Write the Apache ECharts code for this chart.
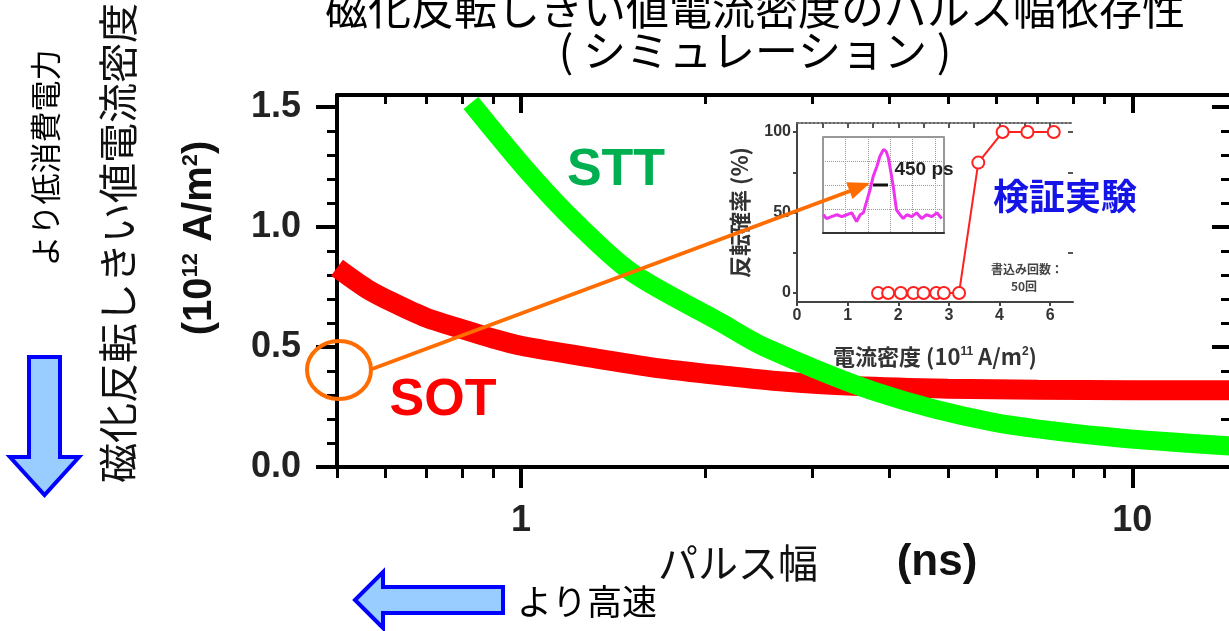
<!DOCTYPE html>
<html>
<head>
<meta charset="utf-8">
<title>磁化反転しきい値電流密度のパルス幅依存性</title>
<script src="https://cdn.jsdelivr.net/npm/echarts@6/dist/echarts.min.js"></script>
<style>
  html, body { margin: 0; padding: 0; background: #fff; }
  #chart { width: 1229px; height: 631px; }
</style>
</head>
<body>
<div id="chart"></div>
<script>
// メイン図：パルス幅 (ns) としきい値電流密度 (10^12 A/m^2)
var sotPulse = [0.5, 0.56, 0.62, 0.7, 0.8, 0.9, 1.0, 1.33, 1.7, 2.2, 2.65, 3.5, 5, 7, 10, 14.5];
var sotJc    = [0.83, 0.742, 0.683, 0.622, 0.575, 0.535, 0.505, 0.452, 0.41, 0.378, 0.357, 0.338, 0.326, 0.322, 0.32, 0.32];
var sttPulse = [0.828, 1.031, 1.231, 1.514, 2.128, 2.5, 3.81, 5.9, 9.2, 14.5];
var sttJc    = [1.517, 1.225, 1.017, 0.8125, 0.60, 0.50, 0.3125, 0.1875, 0.125, 0.0875];

// 目盛り
var xMajor = [1, 10];
var xMajorLabels = ['1', '10'];
var xMinor = [0.5, 0.6, 0.7, 0.8, 0.9, 2, 3, 4, 5, 6, 7, 8, 9];
var yMajor = [0, 0.5, 1.0, 1.5];
var yMajorLabels = ['0.0', '0.5', '1.0', '1.5'];
var yMinor = [0.1, 0.2, 0.3, 0.4, 0.6, 0.7, 0.8, 0.9, 1.1, 1.2, 1.3, 1.4];

// 挿入図：検証実験（電流密度 10^11 A/m^2 と反転確率 %）
var insetJ = [1.6, 1.8, 2.05, 2.3, 2.5, 2.75, 2.9, 3.2, 3.58, 4.06, 4.55, 5.07];
var insetP = [0, 0, 0, 0, 0, 0, 0, 0, 81, 100, 100, 100];
var insetXTicks = [0, 1, 2, 3, 4, 5];
var insetXLabels = ['0', '1', '2', '3', '4', '6'];
var insetYTicks = [0, 50, 100];
var insetYMinor = [0, 25, 50, 75, 100];

// 挿入図の中の電圧パルス波形
var pulseT = [0.01, 0.08, 0.19, 0.31, 0.42, 0.53, 0.64, 0.75, 0.83, 0.90, 0.98, 1.05, 1.12, 1.20, 1.27, 1.35,
              1.41, 1.46, 1.53, 1.57, 1.61, 1.64, 1.72, 1.79, 1.87, 1.98, 2.09, 2.20, 2.31, 2.43, 2.54, 2.65];
var pulseV = [0.19, 0.15, 0.17, 0.19, 0.17, 0.19, 0.21, 0.12, 0.19, 0.21, 0.34, 0.45, 0.59, 0.69, 0.80, 0.87,
              0.85, 0.78, 0.59, 0.48, 0.34, 0.24, 0.19, 0.15, 0.19, 0.17, 0.21, 0.15, 0.19, 0.17, 0.21, 0.15];

var JP = '"Noto Sans CJK JP", sans-serif';
var EN = '"Liberation Sans", Arial, sans-serif';

function zip(a, b) {
  var out = [];
  for (var i = 0; i < a.length; i++) out.push([a[i], b[i]]);
  return out;
}
function pick(values, labels) {
  return function (v) {
    for (var i = 0; i < values.length; i++) {
      if (Math.abs(v - values[i]) < 1e-6 * Math.max(1, Math.abs(values[i]))) return labels[i];
    }
    return '';
  };
}

var myChart = echarts.init(document.getElementById('chart'));

var black = '#000';
var noLabel = {show: false};
var noSplit = {show: false};

var option = {
  animation: false,
  backgroundColor: '#fff',
  grid: [
    {left: 337, top: 95, width: 894, height: 372, outerBoundsMode: 'none'},
    {left: 797, top: 123, width: 276, height: 179, outerBoundsMode: 'none'},
    {left: 823, top: 137, width: 121, height: 96, show: true, borderColor: '#777', borderWidth: 1.5,
     backgroundColor: 'transparent', outerBoundsMode: 'none'}
  ],
  xAxis: [
    // 下：主目盛り＋ラベル
    {type: 'log', gridIndex: 0, position: 'bottom', min: 0.5, max: 14.5,
     axisLine: {onZero: false, lineStyle: {color: black, width: 4}},
     axisTick: {customValues: xMajor, length: 21, lineStyle: {color: black, width: 4}},
     axisLabel: {customValues: xMajor, margin: 36, fontSize: 36, fontWeight: 'bold', fontFamily: EN, color: '#222',
                 formatter: pick(xMajor, xMajorLabels)},
     splitLine: noSplit},
    // 下：補助目盛り
    {type: 'log', gridIndex: 0, position: 'bottom', min: 0.5, max: 14.5,
     axisLine: {show: false, onZero: false},
     axisTick: {customValues: xMinor, length: 11, lineStyle: {color: black, width: 3}},
     axisLabel: noLabel, splitLine: noSplit},
    // 上：枠
    {type: 'log', gridIndex: 0, position: 'top', min: 0.5, max: 14.5,
     axisLine: {onZero: false, lineStyle: {color: black, width: 4}},
     axisTick: {inside: true, customValues: xMajor, length: 18, lineStyle: {color: black, width: 4}},
     axisLabel: noLabel, splitLine: noSplit},
    {type: 'log', gridIndex: 0, position: 'top', min: 0.5, max: 14.5,
     axisLine: {show: false, onZero: false},
     axisTick: {inside: true, customValues: xMinor, length: 9, lineStyle: {color: black, width: 3}},
     axisLabel: noLabel, splitLine: noSplit},
    // 挿入図
    {type: 'value', gridIndex: 1, position: 'bottom', min: 0, max: 5.45,
     axisLine: {onZero: false, lineStyle: {color: '#444', width: 2}},
     axisTick: {customValues: insetXTicks, length: 4, lineStyle: {color: '#444', width: 2}},
     axisLabel: {customValues: insetXTicks, margin: 6, fontSize: 16, fontWeight: 'bold', fontFamily: EN, color: '#333',
                 formatter: pick(insetXTicks, insetXLabels)},
     name: '電流密度 (10{sup|11} A/m{sup|2})', nameLocation: 'middle', nameGap: 44,
     nameTextStyle: {fontSize: 22, fontWeight: 'bold', fontFamily: JP, color: '#333',
                     rich: {sup: {fontSize: 12, fontWeight: 'bold', fontFamily: EN, color: '#333', verticalAlign: 'top'}}},
     splitLine: noSplit},
    {type: 'value', gridIndex: 1, position: 'top', min: 0, max: 5.45,
     axisLine: {onZero: false, lineStyle: {color: '#666', width: 2, type: 'dotted'}},
     axisTick: {inside: true, customValues: [0.5, 1, 1.5, 2, 2.5, 3, 3.5, 4, 4.5, 5], length: 5, lineStyle: {color: '#555', width: 2}},
     axisLabel: noLabel, splitLine: noSplit},
    // 波形の小窓
    {type: 'value', gridIndex: 2, min: 0, max: 2.7, interval: 0.5,
     axisLine: {onZero: false, lineStyle: {color: '#333', width: 2}},
     axisTick: {show: false}, axisLabel: noLabel,
     splitLine: {show: true, lineStyle: {color: '#999', width: 1, type: 'dotted'}}}
  ],
  yAxis: [
    // 左：主目盛り＋ラベル
    {type: 'value', gridIndex: 0, position: 'left', min: 0, max: 1.55,
     axisLine: {show: true, onZero: false, lineStyle: {color: black, width: 4}},
     axisTick: {show: true, customValues: yMajor, length: 21, lineStyle: {color: black, width: 4}},
     axisLabel: {customValues: yMajor, margin: 36, fontSize: 36, fontWeight: 'bold', fontFamily: EN, color: '#222',
                 formatter: pick(yMajor, yMajorLabels)},
     splitLine: noSplit},
    {type: 'value', gridIndex: 0, position: 'left', min: 0, max: 1.55,
     axisLine: {show: false, onZero: false},
     axisTick: {show: true, customValues: yMinor, length: 10, lineStyle: {color: black, width: 3}},
     axisLabel: noLabel, splitLine: noSplit},
    // 右：枠
    {type: 'value', gridIndex: 0, position: 'right', min: 0, max: 1.55,
     axisLine: {show: true, onZero: false, lineStyle: {color: black, width: 4}},
     axisTick: {show: true, inside: true, customValues: yMajor, length: 19, lineStyle: {color: black, width: 4}},
     axisLabel: noLabel, splitLine: noSplit},
    {type: 'value', gridIndex: 0, position: 'right', min: 0, max: 1.55,
     axisLine: {show: false, onZero: false},
     axisTick: {show: true, inside: true, customValues: yMinor, length: 10, lineStyle: {color: black, width: 3}},
     axisLabel: noLabel, splitLine: noSplit},
    // 挿入図
    {type: 'value', gridIndex: 1, position: 'left', min: -5.6, max: 105.6,
     axisLine: {show: true, onZero: false, lineStyle: {color: '#444', width: 2}},
     axisTick: {show: true, customValues: insetYMinor, length: 4, lineStyle: {color: '#444', width: 2}},
     axisLabel: {customValues: insetYTicks, margin: 6, fontSize: 16, fontWeight: 'bold', fontFamily: EN, color: '#333'},
     name: '反転確率 (%)', nameLocation: 'middle', nameRotate: 90, nameGap: 46,
     nameTextStyle: {fontSize: 22, fontWeight: 'bold', fontFamily: JP, color: '#333'},
     splitLine: noSplit},
    {type: 'value', gridIndex: 1, position: 'right', min: -5.6, max: 105.6,
     axisLine: {show: false, onZero: false},
     axisTick: {show: true, inside: true, customValues: [25, 75, 100], length: 5, lineStyle: {color: '#555', width: 2}},
     axisLabel: noLabel, splitLine: noSplit},
    // 波形の小窓
    {type: 'value', gridIndex: 2, min: 0, max: 1, interval: 0.25,
     axisLine: {show: false}, axisTick: {show: false}, axisLabel: noLabel,
     splitLine: {show: true, lineStyle: {color: '#999', width: 1, type: 'dotted'}}}
  ],
  series: [
    {name: 'SOT', type: 'line', xAxisIndex: 0, yAxisIndex: 0, data: zip(sotPulse, sotJc),
     smooth: 0.3, showSymbol: false, z: 2,
     lineStyle: {color: '#ff0000', width: 20, cap: 'butt'}},
    {name: 'STT', type: 'line', xAxisIndex: 0, yAxisIndex: 0, data: zip(sttPulse, sttJc),
     smooth: 0.3, showSymbol: false, z: 3,
     lineStyle: {color: '#00ff00', width: 19, cap: 'butt'}},
    {name: '反転確率', type: 'line', xAxisIndex: 4, yAxisIndex: 4, data: zip(insetJ, insetP),
     symbol: 'emptyCircle', symbolSize: 12, z: 5,
     lineStyle: {color: '#ff2020', width: 2},
     itemStyle: {color: '#ff2020', borderWidth: 2.5}},
    {name: 'パルス', type: 'line', xAxisIndex: 6, yAxisIndex: 6, data: zip(pulseT, pulseV),
     showSymbol: false, z: 5,
     lineStyle: {color: '#ee33ee', width: 3}}
  ],
  graphic: [
    // タイトル
    {type: 'text', x: 755, y: 9, z: 10, style: {text: '磁化反転しきい値電流密度のパルス幅依存性',
      fontSize: 43, fontFamily: JP, fill: '#000', align: 'center', verticalAlign: 'middle'}},
    {type: 'text', x: 755, y: 51, z: 10, style: {text: '( シミュレーション )',
      fontSize: 43, fontFamily: JP, fill: '#000', align: 'center', verticalAlign: 'middle'}},
    // 縦軸名
    {type: 'text', x: 118, y: 243, rotation: Math.PI / 2, z: 10, style: {text: '磁化反転しきい値電流密度',
      fontSize: 40, fontFamily: JP, fill: '#111', align: 'center', verticalAlign: 'middle'}},
    {type: 'text', x: 200, y: 238, rotation: Math.PI / 2, z: 10, style: {text: '(10{sup|12} A/m{sup|2})',
      fontSize: 40, fontWeight: 'bold', fontFamily: EN, fill: '#111', align: 'center', verticalAlign: 'middle',
      rich: {sup: {fontSize: 22, fontWeight: 'bold', fontFamily: EN, fill: '#111', verticalAlign: 'top'}}}},
    {type: 'text', x: 45, y: 158, rotation: Math.PI / 2, z: 10, style: {text: 'より低消費電力',
      fontSize: 31, fontFamily: JP, fill: '#000', align: 'center', verticalAlign: 'middle'}},
    // 青い矢印
    {type: 'polygon', z: 10, shape: {points: [[29, 357], [60, 357], [60, 457], [79, 457], [44.5, 495], [10, 457], [29, 457]]},
     style: {fill: '#99ccff', stroke: '#0000ff', lineWidth: 4, lineJoin: 'miter'}},
    {type: 'polygon', z: 10, shape: {points: [[355, 600], [383, 572], [383, 587], [503, 587], [503, 613], [383, 613], [383, 628]]},
     style: {fill: '#99ccff', stroke: '#0000ff', lineWidth: 4, lineJoin: 'miter'}},
    {type: 'text', x: 517, y: 602, z: 10, style: {text: 'より高速',
      fontSize: 35, fontFamily: JP, fill: '#000', align: 'left', verticalAlign: 'middle'}},
    // 横軸名
    {type: 'text', x: 738, y: 563, z: 10, style: {text: 'パルス幅',
      fontSize: 40, fontFamily: JP, fill: '#111', align: 'center', verticalAlign: 'middle'}},
    {type: 'text', x: 937, y: 563, z: 10, style: {text: '(ns)',
      fontSize: 44, fontWeight: 'bold', fontFamily: EN, fill: '#111', align: 'center', verticalAlign: 'middle'}},
    // 系列名
    {type: 'text', x: 616, y: 171, z: 10, style: {text: 'STT',
      fontSize: 52, fontWeight: 'bold', fontFamily: EN, fill: '#00b050', align: 'center', verticalAlign: 'middle'}},
    {type: 'text', x: 443, y: 401, z: 10, style: {text: 'SOT',
      fontSize: 52, fontWeight: 'bold', fontFamily: EN, fill: '#ff0000', align: 'center', verticalAlign: 'middle'}},
    {type: 'text', x: 1065, y: 196, z: 10, style: {text: '検証実験',
      fontSize: 36, fontWeight: 'bold', fontFamily: JP, fill: '#1414e6', align: 'center', verticalAlign: 'middle'}},
    // 挿入図の注記
    {type: 'text', x: 924, y: 170, z: 10, style: {text: '450 ps',
      fontSize: 19, fontWeight: 'bold', fontFamily: EN, fill: '#222', align: 'center', verticalAlign: 'middle'}},
    {type: 'line', z: 10, shape: {x1: 873, y1: 185, x2: 888, y2: 185}, style: {stroke: '#111', lineWidth: 3}},
    {type: 'text', x: 1027, y: 269, z: 10, style: {text: '書込み回数：',
      fontSize: 12, fontWeight: 'bold', fontFamily: JP, fill: '#444', align: 'center', verticalAlign: 'middle'}},
    {type: 'text', x: 1024, y: 286, z: 10, style: {text: '50回',
      fontSize: 12, fontWeight: 'bold', fontFamily: JP, fill: '#444', align: 'center', verticalAlign: 'middle'}},
    // オレンジの丸と矢印
    {type: 'ellipse', z: 10, shape: {cx: 339, cy: 370, rx: 32, ry: 29},
     style: {fill: 'none', stroke: '#ff6c00', lineWidth: 4}},
    {type: 'line', z: 10, shape: {x1: 372, y1: 369, x2: 850, y2: 191}, style: {stroke: '#ff6c00', lineWidth: 4}},
    {type: 'polygon', z: 10, shape: {points: [[870, 183], [852.6, 199.1], [846.2, 182.3]]},
     style: {fill: '#ff6c00'}}
  ]
};

myChart.setOption(option);
</script>
</body>
</html>
